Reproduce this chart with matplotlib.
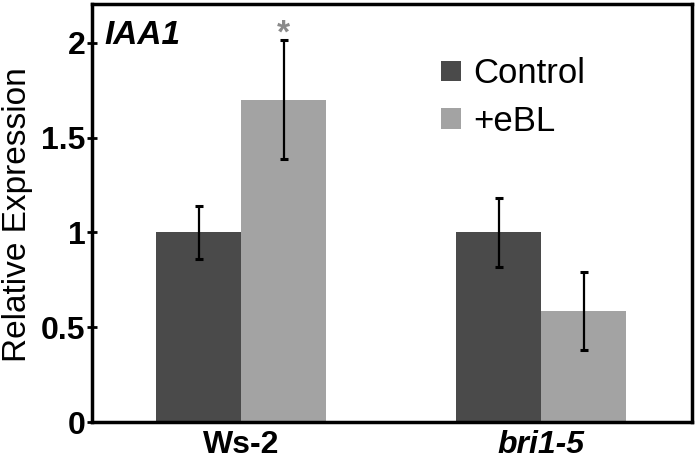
import matplotlib
matplotlib.use("Agg")
import matplotlib.pyplot as plt
import numpy as np

plt.rcParams["font.family"] = ["Liberation Sans", "DejaVu Sans"]

groups = ["Ws-2", "bri1-5"]
series = ["Control", "+eBL"]
control = [1.0, 1.0]
control_err = [0.14, 0.18]
ebl = [1.70, 0.585]
ebl_err = [0.315, 0.205]
signif = [True, False]  # asterisk over +eBL bar

C_CTRL = "#4a4a4a"
C_EBL = "#a3a3a3"

fig = plt.figure(figsize=(6.98, 4.70), dpi=100)
ax = fig.add_axes([0.1318, 0.102, 0.86, 0.8895])

x = np.arange(len(groups))
w = 0.283
err_kw = dict(ecolor="black", elinewidth=1.6, capsize=3, capthick=2.2)
ax.bar(x - w / 2, control, w, yerr=control_err, color=C_CTRL, label=series[0], error_kw=err_kw)
ax.bar(x + w / 2, ebl, w, yerr=ebl_err, color=C_EBL, label=series[1], error_kw=err_kw)

for xi, v, e, s in zip(x, ebl, ebl_err, signif):
    if s:
        ax.text(xi + w / 2, v + e + 0.03, "*", ha="center", va="center",
                fontsize=24, fontweight="bold", color="#8a8a8a")

ax.set_xlim(-0.497, 1.503)
ax.set_ylim(0, 2.205)
ax.set_yticks([0, 0.5, 1, 1.5, 2])
ax.set_yticklabels(["0", "0.5", "1", "1.5", "2"], fontsize=23, fontweight="bold")
ax.tick_params(axis="y", direction="inout", length=7, width=2, pad=1)
ax.set_xticks(x)
ax.set_xticklabels(groups, fontsize=23, fontweight="bold")
ax.get_xticklabels()[1].set_style("italic")
ax.tick_params(axis="x", length=0, pad=6)
ax.set_ylabel("Relative Expression", fontsize=24)
ax.yaxis.set_label_coords(-0.098, 0.495)

for sp in ax.spines.values():
    sp.set_linewidth(2.5)

ax.text(0.02, 0.925, "IAA1", transform=ax.transAxes, fontsize=24,
        fontweight="bold", style="italic", va="center", ha="left")

ax.legend(frameon=False, loc="upper left", bbox_to_anchor=(0.553, 0.914),
          borderpad=0, fontsize=25, handlelength=0.58, handleheight=0.55,
          handletextpad=0.35, labelspacing=0.42)

fig.savefig("out.png", dpi=100)
